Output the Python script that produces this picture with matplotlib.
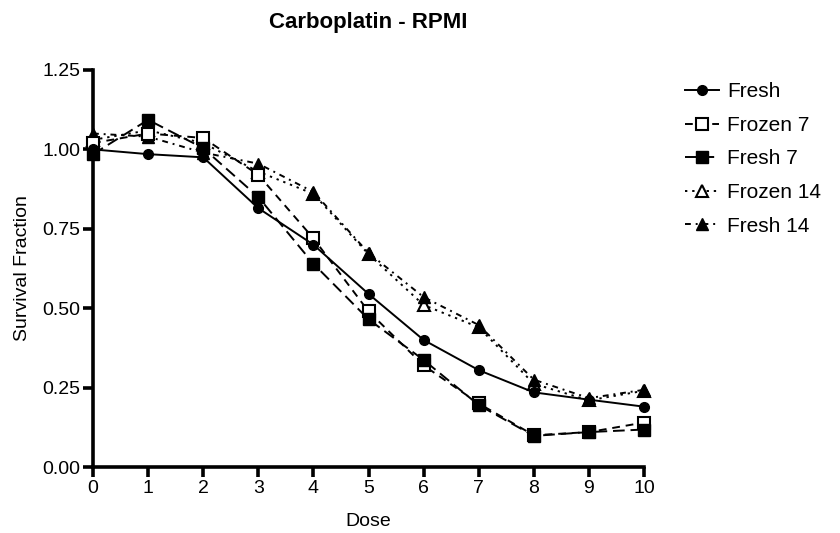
import matplotlib
matplotlib.use("Agg")
import matplotlib.pyplot as plt

plt.rcParams['font.family'] = ['Liberation Sans', 'DejaVu Sans']

dose = [0, 1, 2, 3, 4, 5, 6, 7, 8, 9, 10]
fresh = [1.00, 0.985, 0.975, 0.815, 0.700, 0.545, 0.400, 0.305, 0.235, 0.212, 0.190]
frozen7 = [1.020, 1.050, 1.036, 0.920, 0.720, 0.490, 0.320, 0.200, 0.100, 0.110, 0.140]
fresh7 = [0.985, 1.093, 1.004, 0.850, 0.640, 0.465, 0.337, 0.195, 0.098, 0.110, 0.118]
frozen14 = [1.030, 1.060, 1.020, 0.930, 0.860, 0.670, 0.510, 0.440, 0.262, 0.210, 0.240]
fresh14 = [1.050, 1.040, 0.990, 0.955, 0.866, 0.674, 0.535, 0.447, 0.275, 0.217, 0.243]

labels = ["Fresh", "Frozen 7", "Fresh 7", "Frozen 14", "Fresh 14"]
xticks = list(range(0, 11))
yticks = [0.00, 0.25, 0.50, 0.75, 1.00, 1.25]

fig = plt.figure(figsize=(8.4, 5.33), dpi=100)
ax = fig.add_axes([0.1107, 0.1238, 0.6560, 0.7449])

lw = 1.4
ax.plot(dose, fresh, color='black', linestyle='-', lw=lw, marker='o', ms=7,
        mfc='black', mec='black', label=labels[0], clip_on=False, zorder=5)
ax.plot(dose, frozen7, color='black', linestyle=(0, (4, 3)), lw=lw, marker='s', ms=8,
        mfc='white', mec='black', mew=1.5, label=labels[1], clip_on=False, zorder=4)
ax.plot(dose, fresh7, color='black', linestyle=(0, (6, 3)), lw=lw, marker='s', ms=9,
        mfc='black', mec='black', label=labels[2], clip_on=False, zorder=4)
ax.plot(dose, frozen14, color='black', linestyle=(0, (1.2, 2.5)), lw=lw, marker='^', ms=8,
        mfc='white', mec='black', mew=1.5, label=labels[3], clip_on=False, zorder=3)
ax.plot(dose, fresh14, color='black', linestyle=(0, (3, 2.5, 1, 2.5)), lw=lw, marker='^', ms=9,
        mfc='black', mec='black', label=labels[4], clip_on=False, zorder=3)

ax.set_xlim(0, 10)
ax.set_ylim(0, 1.25)
ax.set_xticks(xticks)
ax.set_xticklabels([str(t) for t in xticks])
ax.set_yticks(yticks)
ax.set_yticklabels([f"{t:.2f}" for t in yticks])

for s in ['top', 'right']:
    ax.spines[s].set_visible(False)
for s in ['left', 'bottom']:
    ax.spines[s].set_linewidth(2.6)
ax.tick_params(axis='both', direction='out', length=7, width=2.6, labelsize=14, pad=2)

ax.set_xlabel("Dose", fontsize=14, labelpad=12)
ax.set_ylabel("Survival Fraction", fontsize=14, labelpad=8)
ax.set_title("Carboplatin - RPMI", fontsize=16, fontweight='bold', pad=30)

leg = ax.legend(loc='upper left', bbox_to_anchor=(1.06, 0.99), frameon=False,
                fontsize=15, handlelength=1.6, handletextpad=0.4, labelspacing=0.7,
                borderaxespad=0)

fig.savefig("out.png", dpi=100)
